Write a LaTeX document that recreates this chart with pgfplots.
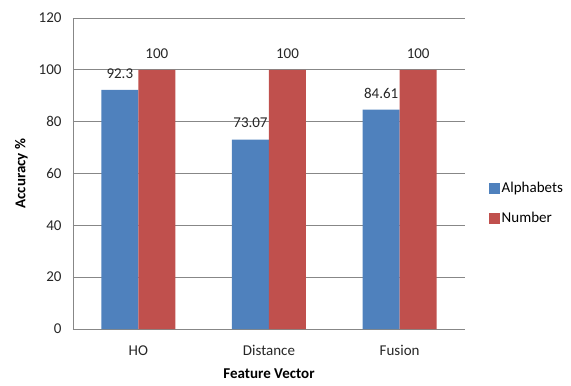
\documentclass[border=0pt]{standalone}
\usepackage{pgfplots}
\pgfplotsset{compat=1.18}
\usepackage{fontspec}
\setmainfont{Carlito}
\definecolor{cblue}{HTML}{4F81BD}
\definecolor{cred}{HTML}{C0504D}
\definecolor{cgrid}{HTML}{878787}
\begin{document}
\begin{tikzpicture}
\useasboundingbox (-73pt,-57pt) rectangle (498pt,329pt);
\begin{axis}[
  at={(0,0)}, anchor=south west,
  scale only axis, width=392pt, height=311pt,
  ymin=0, ymax=120, ytick={0,20,...,120},
  xmin=-0.5, xmax=2.5, xtick=data, xticklabels={HO,Distance,Fusion},
  axis x line*=bottom, axis y line*=left,
  axis line style={cgrid, line width=0.8pt},
  ymajorgrids, grid style={cgrid, line width=0.8pt},
  major tick length=0pt,
  ybar=0pt, bar width=37pt,
  /pgf/number format/assume math mode=true,
  tick label style={font=\fontsize{15}{17}\selectfont, text=black!85},
  yticklabel style={xshift=-8pt},
  xticklabel style={yshift=-13pt},
  xlabel={\textbf{Feature Vector}}, ylabel={\textbf{Accuracy \%}},
  label style={font=\fontsize{15}{17}\selectfont},
  xlabel style={yshift=-6pt},
  ylabel style={yshift=4pt},
  nodes near coords,
  nodes near coords style={font=\fontsize{15}{17}\selectfont, text=black!85, yshift=8pt},
  point meta=explicit symbolic,
  legend style={at={(1.06,0.405)}, anchor=west, draw=none, font=\fontsize{15}{17}\selectfont, row sep=14pt, inner sep=0pt},
  legend image code/.code={\fill[#1] (0pt,-5.5pt) rectangle (11pt,5.5pt);},
  legend cell align=left,
]
\addplot[fill=cblue, draw=none] coordinates {(0,92.3) [92.3] (1,73.07) [73.07] (2,84.61) [84.61]};
\addplot[fill=cred, draw=none] coordinates {(0,100) [100] (1,100) [100] (2,100) [100]};
\legend{Alphabets, Number}
\end{axis}
\end{tikzpicture}
\end{document}
